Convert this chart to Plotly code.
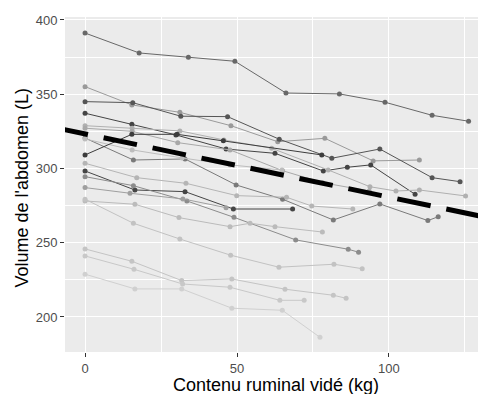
import plotly.graph_objects as go

# Each animal: x = contenu ruminal vidé (kg), y = volume de l'abdomen (L)
animals = {
    "A1": ([0, 17.8, 34.0, 49.3, 66.1, 83.7, 98.7, 114.2, 126.2],
           [391.2, 377.8, 374.9, 372.2, 350.8, 350.2, 344.6, 335.8, 331.8]),
    "A2": ([0, 15.4, 31.2, 48.0, 63.4, 78.9, 94.8, 110.0],
           [355.1, 342.8, 337.8, 328.8, 318.0, 320.3, 305.1, 305.7]),
    "A3": ([0, 15.7, 31.5, 46.9, 63.9, 81.2, 97.0, 114.2, 123.4],
           [345.0, 344.3, 335.2, 334.9, 319.7, 306.9, 313.1, 293.8, 291.1]),
    "A4": ([0, 15.4, 29.9, 46.4, 62.5, 78.4, 86.3, 94.0, 108.6],
           [337.2, 329.8, 322.6, 313.1, 310.2, 298.3, 300.8, 302.4, 282.6]),
    "A5": ([0, 15.5, 31.2, 45.7, 61.4, 80.0, 93.75, 102.3, 110.0, 125.2],
           [328.8, 327.1, 325.3, 319.2, 313.6, 299.0, 287.7, 284.8, 285.5, 281.5]),
    "A6": ([0, 15.5, 30.5, 47.7, 65.0, 78.2, 93.5],
           [327.1, 325.0, 317.4, 312.5, 298.5, 290.4, 284.8]),
    "A7": ([0, 15.9, 32.9, 49.7, 65.0, 81.7, 97.0, 112.8, 116.2],
           [320.5, 305.7, 306.4, 288.9, 279.3, 265.3, 276.1, 264.9, 267.5]),
    "A8": ([0, 15.5, 31.9, 47.7, 64.8],
           [319.9, 312.5, 307.1, 302.4, 299.0]),
    "A9": ([0, 15.4, 30.3, 45.5, 77.9],
           [309.1, 323.0, 323.0, 318.7, 309.1]),
    "A10": ([0, 17.0, 33.2, 49.9, 66.3, 74.6, 88.1],
            [303.5, 293.8, 290.0, 281.7, 280.6, 274.7, 272.7]),
    "A11": ([0, 16.4, 32.9, 48.8, 68.3],
            [298.3, 285.5, 284.4, 272.7, 272.7]),
    "A12": ([0, 15.9, 33.5, 49.0, 69.3, 86.6, 90.0],
            [294.5, 288.4, 278.1, 267.1, 251.9, 245.6, 243.6]),
    "A13": ([0, 14.8, 32.2, 46.4],
            [287.1, 283.3, 279.5, 273.6]),
    "A18": ([0, 16.4, 30.9, 47.7, 54.3, 62.5, 78.1],
            [278.1, 275.9, 266.9, 260.8, 263.1, 260.8, 257.2]),
    "A14": ([0, 15.9, 31.2, 47.9, 63.8, 81.9, 91.2],
            [279.3, 263.1, 252.5, 241.6, 233.5, 235.5, 232.5]),
    "A15": ([0, 15.4, 31.8, 48.3, 65.8, 81.7, 85.9],
            [245.8, 237.5, 224.5, 225.6, 218.7, 214.6, 212.6]),
    "A16": ([0, 16.1, 32.1, 47.7, 64.1, 72.1],
            [241.1, 232.1, 222.2, 220.0, 211.2, 211.2]),
    "A17": ([0, 16.4, 31.8, 48.3, 64.9, 77.3],
            [228.8, 218.9, 218.9, 205.9, 204.5, 186.3]),
}
colors = {
    "A1": "#686868", "A2": "#9a9a9a", "A3": "#555555", "A4": "#444444",
    "A5": "#b0b0b0", "A6": "#a8a8a8", "A7": "#7a7a7a", "A8": "#bdbdbd",
    "A9": "#3c3c3c", "A10": "#b5b5b5", "A11": "#454545", "A12": "#8c8c8c",
    "A13": "#9f9f9f", "A18": "#bbbbbb", "A14": "#c2c2c2", "A15": "#c4c4c4",
    "A16": "#c8c8c8", "A17": "#d0d0d0",
}

reg_intercept = 323.3
reg_slope = -0.426
reg_x = [-10, 135]

x_ticks = [0, 50, 100]
y_ticks = [200, 250, 300, 350, 400]

fig = go.Figure()
for name, (xs, ys) in animals.items():
    fig.add_trace(go.Scatter(
        x=xs, y=ys, mode="lines+markers", name=name,
        line=dict(color=colors[name], width=1),
        marker=dict(color=colors[name], size=5),
        showlegend=False, hoverinfo="skip"))

fig.add_trace(go.Scatter(
    x=reg_x, y=[reg_intercept + reg_slope * v for v in reg_x],
    mode="lines", line=dict(color="black", width=5, dash="34px,16px"),
    showlegend=False, hoverinfo="skip"))

axis_common = dict(
    showgrid=True, gridcolor="white", gridwidth=1.1,
    zeroline=False, showline=False,
    ticks="outside", ticklen=4, tickwidth=1.1, tickcolor="#333333",
    tickfont=dict(family="Liberation Sans, Arial, sans-serif", size=13, color="#4d4d4d"),
    minor=dict(showgrid=True, gridcolor="white", gridwidth=0.5),
)

fig.update_xaxes(range=[-6.6, 129.3], tickvals=x_ticks,
                 minor_tickvals=[25, 75, 125], **axis_common)
fig.update_yaxes(range=[176.4, 402.0], tickvals=y_ticks,
                 minor_tickvals=[225, 275, 325, 375], **axis_common)

fig.update_layout(
    width=478, height=394,
    margin=dict(l=65, r=0, t=17, b=42),
    plot_bgcolor="#ebebeb", paper_bgcolor="white",
    font=dict(family="Liberation Sans, Arial, sans-serif"),
    annotations=[
        dict(text="Contenu ruminal vidé (kg)", xref="paper", yref="paper",
             x=0.51, y=-0.062, xanchor="center", yanchor="top", showarrow=False,
             font=dict(size=18, color="black")),
        dict(text="Volume de l'abdomen (L)", xref="paper", yref="paper",
             x=-0.105, y=0.49, xanchor="center", yanchor="middle", showarrow=False,
             textangle=-90, font=dict(size=18, color="black")),
    ],
)

fig.write_html("out.html", config={"displayModeBar": False},
               post_script="document.body.style.margin='0';document.body.style.overflow='hidden';")
